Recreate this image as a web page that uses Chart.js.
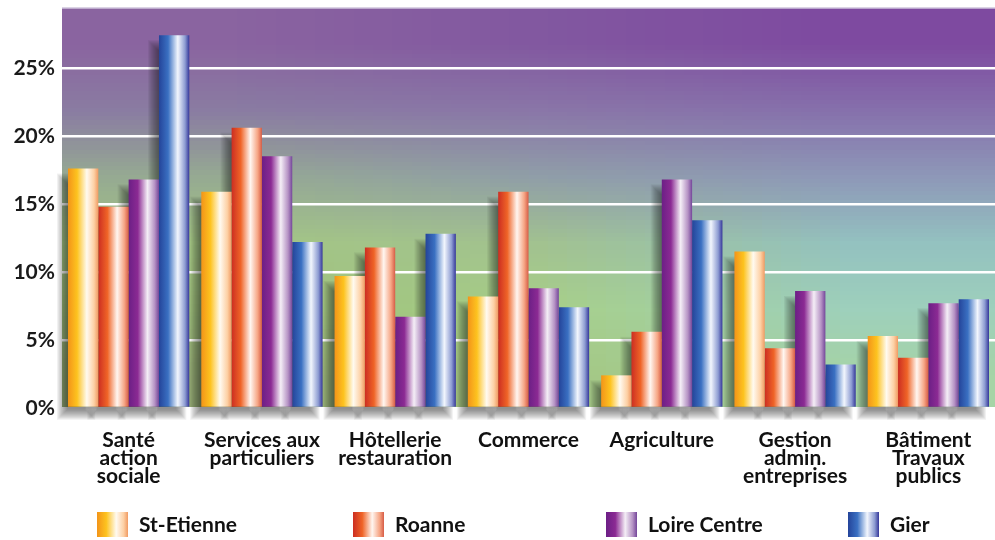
<!DOCTYPE html>
<html>
<head>
<meta charset="utf-8">
<script src="https://cdn.jsdelivr.net/npm/chart.js@4.4.0/dist/chart.umd.min.js"></script>
<style>
  body { margin: 0; background: #fff; }
  #chart { display: block; }
</style>
</head>
<body>
<canvas id="chart" width="995" height="540"></canvas>
<script>
// categories (multi-line labels)
var categories = [
    ['Santé', 'action', 'sociale'],
    ['Services aux', 'particuliers'],
    ['Hôtellerie', 'restauration'],
    ['Commerce'],
    ['Agriculture'],
    ['Gestion', 'admin.', 'entreprises'],
    ['Bâtiment', 'Travaux', 'publics']
];

// values in %
var stEtienne   = [17.6, 15.9, 9.7, 8.2, 2.4, 11.5, 5.3];
var roanne      = [14.8, 20.6, 11.8, 15.9, 5.6, 4.4, 3.7];
var loireCentre = [16.8, 18.5, 6.7, 8.8, 16.8, 8.6, 7.7];
var gier        = [27.4, 12.2, 12.8, 7.4, 13.8, 3.2, 8.0];

var seriesNames = ['St-Etienne', 'Roanne', 'Loire Centre', 'Gier'];
var yTicks = [0, 5, 10, 15, 20, 25];

// cylinder-like shading for each series (left edge -> highlight -> right edge)
var shades = [
    ['#f39419', '#fdc31f', '#fffaf0', '#fdd0a4', '#f09a62'],
    ['#cc2e22', '#ef6427', '#fff6f0', '#f6a584', '#d65c46'],
    ['#6c1f86', '#8b2a93', '#f4eef6', '#b592c4', '#74469a'],
    ['#24449a', '#3a70c2', '#f2f6fd', '#8d9cd2', '#35379a']
];

var catPct = 0.91;

function shadeFill(c, left, w, idx) {
    var g = c.createLinearGradient(left, 0, left + w, 0);
    var s = shades[idx];
    g.addColorStop(0, s[0]);
    g.addColorStop(0.3, s[1]);
    g.addColorStop(0.62, s[2]);
    g.addColorStop(0.86, s[3]);
    g.addColorStop(1, s[4]);
    return g;
}

function barFill(context) {
    var chart = context.chart;
    var xs = chart.scales.x;
    if (!chart.chartArea || !xs) return shades[context.datasetIndex][1];
    var center = xs.getPixelForValue(context.dataIndex);
    var groupW = xs.width / categories.length * catPct;
    var barW = groupW / 4;
    var left = center - groupW / 2 + context.datasetIndex * barW;
    return shadeFill(chart.ctx, left, barW, context.datasetIndex);
}

// background colour grid: rows top->bottom, columns left/middle/right
var bgGrid = [
    ['#8a64a0', '#8258a0', '#7e4aa0'],
    ['#8a7ca2', '#8a76a8', '#8670ac'],
    ['#96aa92', '#909ea8', '#8e98b8'],
    ['#a4c684', '#a2c290', '#94c2c0'],
    ['#9cbc7a', '#a8d088', '#9ed0bc'],
    ['#92a872', '#a4c680', '#a6d4a6']
];

var backgroundPlugin = {
    id: 'background',
    beforeDraw: function(chart) {
        var a = chart.chartArea;
        var c = chart.ctx;
        var off = document.createElement('canvas');
        off.width = 3; off.height = bgGrid.length;
        var oc = off.getContext('2d');
        bgGrid.forEach(function(row, r) {
            row.forEach(function(col, k) {
                oc.fillStyle = col;
                oc.fillRect(k, r, 1, 1);
            });
        });
        c.save();
        c.imageSmoothingEnabled = true;
        c.imageSmoothingQuality = 'low';
        c.drawImage(off, 0, 0, 3, bgGrid.length, a.left, a.top, a.right - a.left, a.bottom - a.top);
        c.strokeStyle = '#cfc4dc';
        c.lineWidth = 1.5;
        c.beginPath();
        c.moveTo(a.left, a.top);
        c.lineTo(a.right, a.top);
        c.stroke();
        c.restore();
    }
};

// soft drop shadow behind each bar group, built from stacked translucent rects
var shadowPlugin = {
    id: 'barShadow',
    beforeDatasetsDraw: function(chart) {
        var c = chart.ctx;
        var dx = -7, dy = 9, steps = 10;
        c.save();
        c.fillStyle = 'rgba(25,25,25,0.06)';
        chart.data.datasets.forEach(function(ds, i) {
            chart.getDatasetMeta(i).data.forEach(function(bar) {
                var p = bar.getProps(['x', 'y', 'base', 'width']);
                var l = p.x - p.width / 2 + dx, t = p.y + dy;
                var w = p.width, h = p.base - p.y;
                for (var k = 0; k < steps; k++) {
                    var e = k * 1.1;
                    c.fillRect(l - 4 + e, t - 4 + e, w + 8 - 2 * e, h + 8 - 2 * e);
                }
            });
        });
        c.restore();
    }
};

var legendPlugin = {
    id: 'swatchLegend',
    afterDraw: function(chart, args, opts) {
        var c = chart.ctx;
        c.save();
        c.font = opts.font;
        c.textBaseline = 'middle';
        chart.data.datasets.forEach(function(ds, i) {
            var x = opts.x[i];
            c.fillStyle = shadeFill(c, x, opts.w, i);
            c.fillRect(x, opts.y, opts.w, opts.h);
            c.fillStyle = '#111';
            c.fillText(ds.label, x + opts.w + 11, opts.y + opts.h / 2 + 1);
        });
        c.restore();
    }
};

var ctx = document.getElementById('chart').getContext('2d');
var allSeries = [stEtienne, roanne, loireCentre, gier];

var chart = new Chart(ctx, {
    type: 'bar',
    data: {
        labels: categories,
        datasets: allSeries.map(function(values, i) {
            return {
                label: seriesNames[i],
                data: values,
                backgroundColor: barFill,
                borderWidth: 0,
                barPercentage: 1.0,
                categoryPercentage: catPct
            };
        })
    },
    options: {
        responsive: false,
        animation: false,
        layout: { padding: { top: 8, right: 0, left: 0, bottom: 0 } },
        plugins: {
            legend: { display: false },
            tooltip: { enabled: false },
            swatchLegend: {
                x: [97, 353, 606, 848],
                y: 512, w: 31, h: 25,
                font: 'bold 21px Lato'
            }
        },
        scales: {
            x: {
                grid: { display: false },
                border: { display: false },
                ticks: {
                    color: '#111',
                    padding: 15,
                    maxRotation: 0,
                    autoSkip: false,
                    font: { family: 'Lato', size: 21, weight: 'bold', lineHeight: 0.86 }
                },
                afterFit: function(scale) {
                    scale.height = 132;
                    scale.paddingLeft = 0;
                    scale.paddingRight = 0;
                }
            },
            y: {
                min: 0,
                max: 29.4,
                border: { display: false },
                grid: { color: '#ffffff', lineWidth: 2.5, drawTicks: false },
                afterBuildTicks: function(scale) {
                    scale.ticks = yTicks.map(function(v) { return { value: v }; });
                },
                ticks: {
                    color: '#1a1a1a',
                    padding: 7,
                    font: { family: 'Lato', size: 21, weight: 'bold' },
                    callback: function(v) { return v + '%'; }
                },
                afterFit: function(scale) {
                    scale.width = 62;
                    scale.paddingTop = 0;
                    scale.paddingBottom = 0;
                }
            }
        }
    },
    plugins: [backgroundPlugin, shadowPlugin, legendPlugin]
});
</script>
</body>
</html>
